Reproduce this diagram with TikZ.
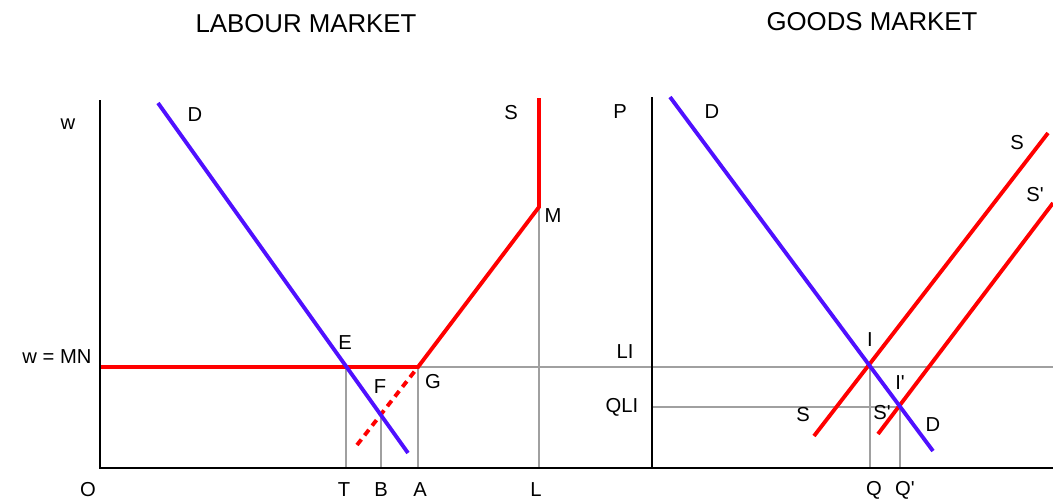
\documentclass[tikz,border=0pt]{standalone}
\usepackage{fontspec}
\setmainfont{Liberation Sans}
\usetikzlibrary{positioning}
\definecolor{dblue}{HTML}{4F10FF}
\definecolor{sred}{HTML}{FF0000}
\definecolor{guide}{HTML}{A0A0A0}
\newcommand{\pr}{\textquotesingle}

\begin{document}
\begin{tikzpicture}[
  x=0.02cm, y=-0.02cm,
  font=\fontsize{11.5}{13}\selectfont,
  axis/.style={line width=1.6pt, draw=black},
  demand/.style={line width=2.2pt, draw=dblue},
  supply/.style={line width=2.2pt, draw=sred},
  guideline/.style={line width=0.6pt, draw=guide},
  lab/.style={inner sep=0pt},
  title/.style={inner sep=0pt, font=\fontsize{14.7}{17}\selectfont},
]
\useasboundingbox (0,0) rectangle (1053,500);
% axes
\coordinate (wtop) at (100,100);
\coordinate (orig) at (100,468);
\coordinate (axend) at (1053,468);
\coordinate (ptop) at (652,97);
\coordinate (porig) at (652,468);
% labour market points
\coordinate (Dtop) at (158,103);
\coordinate (Dbot) at (408,453);
\coordinate (E) at (346,367);
\coordinate (F) at (381,415);
\coordinate (G) at (418,367);
\coordinate (M) at (539,207);
\coordinate (Stop) at (539,98);
\coordinate (dashbot) at (357,445);
\coordinate (T) at (346,468);
\coordinate (B) at (381,468);
\coordinate (A) at (418,468);
\coordinate (L) at (539,468);
\coordinate (wmn) at (100,367);
\coordinate (guideend) at (1053,367);
% goods market points
\coordinate (D2top) at (670,97);
\coordinate (D2bot) at (933,451);
\coordinate (S2bot) at (814,436);
\coordinate (S2top) at (1048,133);
\coordinate (S3bot) at (878,434);
\coordinate (S3top) at (1053,203);
\coordinate (I) at (870,367);
\coordinate (Ip) at (900,407);
\coordinate (Q) at (870,468);
\coordinate (Qp) at (900,468);
\coordinate (qli) at (652,407);
% guide lines
\draw[guideline] (E) -- (T);
\draw[guideline] (F) -- (B);
\draw[guideline] (G) -- (A);
\draw[guideline] (M) -- (L);
\draw[guideline] (G) -- (guideend);
\draw[guideline] (qli) -- (Ip);
\draw[guideline] (I) -- (Q);
\draw[guideline] (Ip) -- (Qp);
% curves
\draw[supply] (wmn) -- (G) -- (M) -- (Stop);
\draw[supply, dash pattern=on 4pt off 3pt] (dashbot) -- (G);
\draw[demand] (Dtop) -- (Dbot);
\draw[supply] (S2bot) -- (S2top);
\draw[supply] (S3bot) -- (S3top);
\draw[demand] (D2top) -- (D2bot);
\draw[axis] (wtop) -- (orig) -- (axend);
\draw[axis] (ptop) -- (porig);
% titles
\node[title] (labtitle) at (306,24) {LABOUR MARKET};
\node[title] (goodstitle) at (872,22) {GOODS MARKET};
% labour market labels
\node[lab] (wlab) at (68,124) {w};
\node[lab] (wmnlab) at (57,357) {w = MN};
\node[lab] (olab) at (88,490) {O};
\node[lab] (dlab) at (195,115) {D};
\node[lab] (slab) at (511,113) {S};
\node[lab] (mlab) at (553,216) {M};
\node[lab] (elab) at (345,343) {E};
\node[lab] (flab) at (380,387) {F};
\node[lab] (glab) at (433,382) {G};
\node[lab] (tlab) at (344,490) {T};
\node[lab] (blab) at (381,490) {B};
\node[lab] (alab) at (420,490) {A};
\node[lab] (llab) at (536,490) {L};
% goods market labels
\node[lab] (plab) at (620,112) {P};
\node[lab] (d2lab) at (712,112) {D};
\node[lab] (s2lab) at (1017,143) {S};
\node[lab] (s3lab) at (1035,195) {S\pr};
\node[lab] (lilab) at (625,352) {LI};
\node[lab] (qlilab) at (622,407) {QLI};
\node[lab] (ilab) at (870,340) {I};
\node[lab] (iplab) at (900,383) {I\pr};
\node[lab] (s2blab) at (803,415) {S};
\node[lab] (s3blab) at (882,413) {S\pr};
\node[lab] (d2blab) at (933,425) {D};
\node[lab] (qlab) at (874,490) {Q};
\node[lab] (qplab) at (905,490) {Q\pr};
\end{tikzpicture}
\end{document}
